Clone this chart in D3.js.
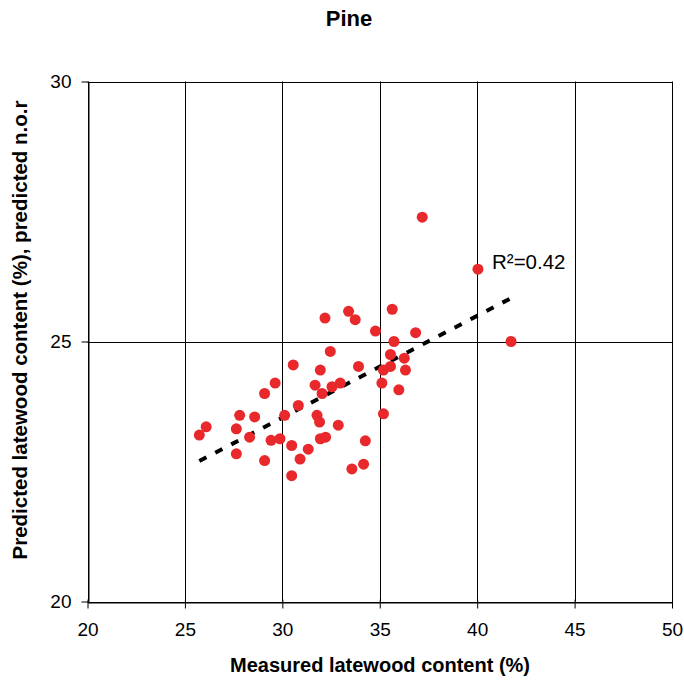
<!DOCTYPE html>
<html>
<head>
<meta charset="utf-8">
<script src="https://cdnjs.cloudflare.com/ajax/libs/d3/7.8.5/d3.min.js"></script>
<style>
  html, body { margin: 0; padding: 0; background: #fff; }
  svg { display: block; font-family: "Liberation Sans", Arial, sans-serif; }
</style>
</head>
<body>
<svg id="chart" width="684" height="680"></svg>
<script>
// Measured vs predicted latewood content for pine samples
const measured = [
  32.19, 32.46, 30.56, 31.95, 29.63, 29.09, 31.68, 32.04, 32.55, 30.82,
  30.12, 31.78, 31.91, 32.87, 27.81, 28.58, 27.64, 26.09, 25.74, 28.32,
  29.42, 29.88, 31.95, 32.22, 30.48, 31.33, 27.64, 30.91, 29.09, 30.48,
  33.40, 33.74, 35.64, 34.78, 36.84, 35.73, 41.74, 35.55, 36.26, 33.91,
  35.19, 35.55, 36.32, 32.97, 35.11, 35.98, 35.19, 34.26, 34.17, 33.57,
  37.18, 40.04
];
const predicted = [
  25.45, 24.81, 24.55, 24.45, 24.20, 24.00, 24.16, 24.00, 24.13, 23.77,
  23.58, 23.58, 23.45, 23.39, 23.58, 23.55, 23.32, 23.36, 23.20, 23.16,
  23.10, 23.13, 23.13, 23.16, 23.00, 22.93, 22.84, 22.74, 22.71, 22.42,
  25.58, 25.42, 25.62, 25.20, 25.17, 25.00, 25.00, 24.75, 24.68, 24.52,
  24.45, 24.52, 24.45, 24.20, 24.20, 24.07, 23.61, 23.09, 22.64, 22.55,
  27.39, 26.39
];
const xTicks = [20, 25, 30, 35, 40, 45, 50];
const yTicks = [20, 25, 30];
const rSquaredLabel = "R²=0.42";

const points = measured.map((m, i) => ({ x: m, y: predicted[i] }));

const svg = d3.select("#chart");
const x = d3.scaleLinear().domain([20, 50]).range([87.5, 672]);
const y = d3.scaleLinear().domain([20, 30]).range([601.5, 81.5]);

// Grid: vertical line at each x tick, horizontal lines at the y ticks
const grid = svg.append("g").attr("stroke", "#000").attr("stroke-width", 1);
grid.selectAll("line.v").data(xTicks).join("line")
  .attr("class", "v")
  .attr("x1", d => Math.round(x(d)) + 0.5).attr("x2", d => Math.round(x(d)) + 0.5)
  .attr("y1", y(30)).attr("y2", y(20));
grid.selectAll("line.h").data(yTicks).join("line")
  .attr("class", "h")
  .attr("x1", x(20)).attr("x2", x(50))
  .attr("y1", d => Math.round(y(d)) + 0.5).attr("y2", d => Math.round(y(d)) + 0.5);

// Axes
const xAxis = d3.axisBottom(x).tickValues(xTicks).tickSize(6).tickPadding(14).tickSizeOuter(0);
const yAxis = d3.axisLeft(y).tickValues(yTicks).tickSize(7).tickPadding(10).tickSizeOuter(0);

const gx = svg.append("g").attr("transform", `translate(0,${Math.round(y(20)) + 0.5})`).call(xAxis);
const gy = svg.append("g").attr("transform", `translate(${Math.round(x(20)) + 0.5},0)`).call(yAxis);
[gx, gy].forEach(g => {
  g.select(".domain").attr("stroke", "#000");
  g.selectAll(".tick line").attr("stroke", "#000");
  g.selectAll(".tick text")
    .attr("fill", "#000")
    .style("font-size", "19px")
    .style("font-family", "'Liberation Sans', Arial, sans-serif");
});
gx.selectAll(".tick line").attr("y1", -3);

// Least-squares trend line through the samples
const mx = d3.mean(measured), my = d3.mean(predicted);
let sxy = 0, sxx = 0;
points.forEach(p => { sxy += (p.x - mx) * (p.y - my); sxx += (p.x - mx) * (p.x - mx); });
const slope = sxy / sxx;
const intercept = my - slope * mx;
const [xmin, xmax] = d3.extent(measured);
const trend = [xmin, xmax].map(v => ({ x: v, y: intercept + slope * v }));

svg.append("path")
  .datum(trend)
  .attr("fill", "none")
  .attr("stroke", "#000")
  .attr("stroke-width", 4)
  .attr("stroke-dasharray", "8,10")
  .attr("d", d3.line().x(d => x(d.x)).y(d => y(d.y)));

// Sample points
svg.append("g").selectAll("circle").data(points).join("circle")
  .attr("cx", d => x(d.x))
  .attr("cy", d => y(d.y))
  .attr("r", 5.5)
  .attr("fill", "#e8282b");

// Fit annotation
svg.append("text")
  .attr("x", 492).attr("y", 269)
  .style("font-size", "20.5px")
  .text(rSquaredLabel);

// Title and axis titles
svg.append("text")
  .attr("x", 349).attr("y", 26)
  .attr("text-anchor", "middle")
  .style("font-size", "22px").style("font-weight", "bold")
  .text("Pine");

svg.append("text")
  .attr("x", 380).attr("y", 672)
  .attr("text-anchor", "middle")
  .style("font-size", "20px").style("font-weight", "bold")
  .text("Measured latewood content (%)");

svg.append("text")
  .attr("transform", "translate(27,330) rotate(-90)")
  .attr("text-anchor", "middle")
  .style("font-size", "20.5px").style("font-weight", "bold")
  .text("Predicted latewood content (%), predicted n.o.r");
</script>
</body>
</html>
